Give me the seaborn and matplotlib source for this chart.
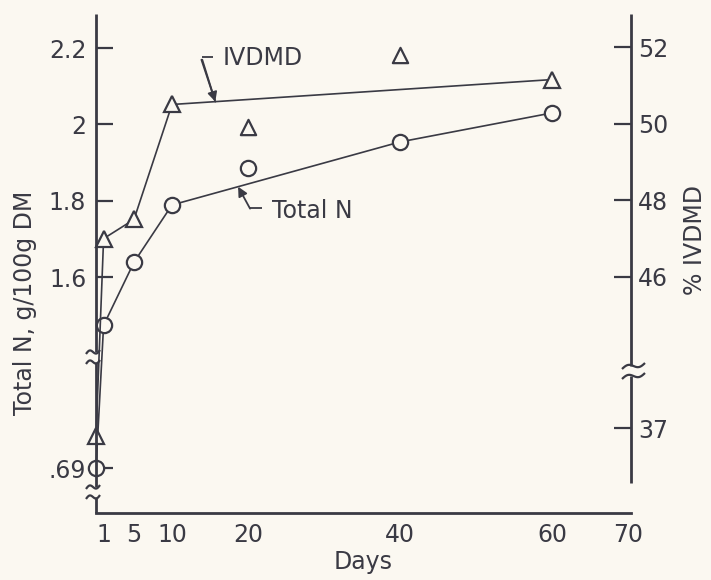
import numpy as np
import pandas as pd
import matplotlib
matplotlib.use("Agg")
import matplotlib.pyplot as plt
import seaborn as sns
from matplotlib.lines import Line2D

# ---------------- data ----------------
days_n = [0, 1, 5, 10, 40, 60]
total_n = [0.69, 1.474, 1.639, 1.789, 1.954, 2.030]
days_n_extra = [20]
total_n_extra = [1.886]

days_iv = [0, 1, 5, 10, 60]
ivdmd = [36.8, 47.0, 47.5, 50.5, 51.15]
days_iv_extra = [20, 40]
ivdmd_extra = [49.9, 51.8]

x_ticks = [1, 5, 10, 20, 40, 60, 70]
x_labels = ["1", "5", "10", "20", "40", "60", "70"]
left_ticks = [0.69, 1.6, 1.8, 2.0, 2.2]
left_labels = [".69", "1.6", "1.8", "2", "2.2"]
right_ticks = [37, 46, 48, 50, 52]
right_labels = ["37", "46", "48", "50", "52"]

# ---------------- style ----------------
BG = "#fbf8f1"
INK = "#3a3a44"
sns.set_theme(style="white")
plt.rcParams["font.family"] = ["DejaVu Sans"]
plt.rcParams["text.color"] = INK
plt.rcParams["xtick.color"] = INK
plt.rcParams["ytick.color"] = INK
FS = 17

W, H = 711, 580
fig = plt.figure(figsize=(W / 100, H / 100), dpi=100, facecolor=BG)
AX_L, AX_R, AX_T, AX_B = 96, 631, 14, 513
ax = fig.add_axes([AX_L / W, (H - AX_B) / H, (AX_R - AX_L) / W, (AX_B - AX_T) / H])
ax.set_facecolor(BG)
ax2 = ax.twinx()
ax2.set_facecolor("none")


# piecewise-linear broken scale (position in px above the x axis)
def make_pw(xs, ys):
    xs = np.asarray(xs, float)
    ys = np.asarray(ys, float)

    def f(v):
        v = np.asarray(v, float)
        out = np.interp(v, xs, ys)
        s0 = (ys[1] - ys[0]) / (xs[1] - xs[0])
        s1 = (ys[-1] - ys[-2]) / (xs[-1] - xs[-2])
        out = np.where(v < xs[0], ys[0] + (v - xs[0]) * s0, out)
        out = np.where(v > xs[-1], ys[-1] + (v - xs[-1]) * s1, out)
        return out

    return f, make_inv(xs, ys)


def make_inv(xs, ys):
    def g(p):
        p = np.asarray(p, float)
        out = np.interp(p, ys, xs)
        s0 = (xs[1] - xs[0]) / (ys[1] - ys[0])
        s1 = (xs[-1] - xs[-2]) / (ys[-1] - ys[-2])
        out = np.where(p < ys[0], xs[0] + (p - ys[0]) * s0, out)
        out = np.where(p > ys[-1], xs[-1] + (p - ys[-1]) * s1, out)
        return out

    return g


lf, li = make_pw([0.69, 0.968, 1.404, 2.2], [45, 151, 161, 465])
rf, ri = make_pw([37, 38.435, 43.65, 52], [85, 140, 146, 466])
ax.set_yscale("function", functions=(lf, li))
ax2.set_yscale("function", functions=(rf, ri))
HPX = AX_B - AX_T
ax.set_ylim(float(li(0)), float(li(HPX)))
ax2.set_ylim(float(ri(0)), float(ri(HPX)))
ax.set_xlim(0, 70.4)

# ---------------- data marks ----------------
LW = 1.2
MS = 11
df_n = pd.DataFrame({"day": days_n, "val": total_n})
df_iv = pd.DataFrame({"day": days_iv, "val": ivdmd})
sns.lineplot(data=df_n, x="day", y="val", ax=ax, color=INK, lw=LW, sort=False,
             estimator=None, marker="o", markersize=MS, markerfacecolor=BG,
             markeredgecolor=INK, markeredgewidth=1.6, clip_on=False, zorder=3)
sns.scatterplot(x=days_n_extra, y=total_n_extra, ax=ax, marker="o", s=MS ** 2,
                facecolor=BG, edgecolor=INK, linewidth=1.6, zorder=4, clip_on=False)
sns.lineplot(data=df_iv, x="day", y="val", ax=ax2, color=INK, lw=LW, sort=False,
             estimator=None, marker="^", markersize=MS, markerfacecolor=BG,
             markeredgecolor=INK, markeredgewidth=1.6, clip_on=False, zorder=3)
sns.scatterplot(x=days_iv_extra, y=ivdmd_extra, ax=ax2, marker="^", s=MS ** 2,
                facecolor=BG, edgecolor=INK, linewidth=1.6, zorder=4, clip_on=False)

# ---------------- axes / ticks ----------------
for a in (ax, ax2):
    for s in a.spines.values():
        s.set_visible(False)
    a.set_xlabel("")
    a.set_ylabel("")
ax.spines["bottom"].set_visible(True)
ax.spines["bottom"].set_linewidth(2.0)
ax.spines["bottom"].set_color(INK)

ax.set_xticks(x_ticks)
ax.set_xticklabels(x_labels)
ax.set_yticks(left_ticks)
ax.set_yticklabels(left_labels)
ax2.set_yticks(right_ticks)
ax2.set_yticklabels(right_labels)
ax.yaxis.set_minor_locator(matplotlib.ticker.NullLocator())
ax2.yaxis.set_minor_locator(matplotlib.ticker.NullLocator())
ax.tick_params(axis="x", direction="in", length=10, width=1.8, pad=7, labelsize=FS, colors=INK)
ax.tick_params(axis="y", direction="in", length=12, width=1.6, pad=7, labelsize=FS, colors=INK)
ax2.tick_params(axis="y", direction="in", length=12, width=1.6, pad=5, labelsize=FS, colors=INK)


# ---------------- hand-drawn broken spines ----------------
def fig_line(xs, ys, lw=2.0):
    fig.add_artist(Line2D(np.asarray(xs) / W, 1 - np.asarray(ys) / H,
                          transform=fig.transFigure, color=INK, lw=lw,
                          solid_capstyle="butt", zorder=5))


def brk(x0, x1, yc, tilt=4, amp=2.5):
    t = np.linspace(0, 1, 20)
    xs = x0 + (x1 - x0) * t
    ys = yc + tilt * (0.5 - t) - amp * np.sin(2 * np.pi * t)
    fig_line(xs, ys, lw=1.6)


# left spine: three segments
fig_line([AX_L, AX_L], [AX_T, 352])
fig_line([AX_L, AX_L], [362, 487])
fig_line([AX_L, AX_L], [497, AX_B])
brk(86, 100, 352)
brk(86, 100, 362)
brk(86, 100, 487)
brk(86, 100, 497)
# right spine: two segments, ends above the x axis
fig_line([AX_R, AX_R], [AX_T, 366])
fig_line([AX_R, AX_R], [376, 483])
brk(622, 645, 366, tilt=6)
brk(622, 645, 376, tilt=6)

# ---------------- labels ----------------
fig.text(25 / W, 1 - 303 / H, "Total N, g/100g DM", rotation=90, ha="center",
         va="center", fontsize=FS, color=INK)
fig.text(695 / W, 1 - 240 / H, "% IVDMD", rotation=90, ha="center",
         va="center", fontsize=FS, color=INK)
fig.text(363 / W, 1 - 562 / H, "Days", ha="center", va="center", fontsize=FS, color=INK)

# ---------------- annotations ----------------
iv_tip_day = 15.7
iv_tip = (iv_tip_day, float(np.interp(iv_tip_day, days_iv, ivdmd)))
ax2.annotate("", xy=iv_tip, xycoords="data", xytext=(-9.4, 30.2), textcoords="offset points",
             arrowprops=dict(arrowstyle="-|>", color=INK, lw=1.3, mutation_scale=14,
                             shrinkA=0, shrinkB=0))
ax2.annotate("", xy=iv_tip, xycoords="data", xytext=(-10, 30.2), textcoords="offset points",
             arrowprops=dict(arrowstyle="-", color=INK, lw=1.3, shrinkA=0, shrinkB=0,
                             relpos=(0, 0)), annotation_clip=False)
ax2.annotate("IVDMD", xy=iv_tip, xycoords="data", xytext=(5, 31.5), textcoords="offset points",
             ha="left", va="center", fontsize=FS, color=INK)
fig_line([202, 213], [57, 57], lw=1.3)

tn_tip_day = 18.7
tn_tip = (tn_tip_day, float(np.interp(tn_tip_day, days_n, total_n)))
ax.annotate("", xy=tn_tip, xycoords="data", xytext=(8.6, -15.8), textcoords="offset points",
            arrowprops=dict(arrowstyle="-|>", color=INK, lw=1.3, mutation_scale=14,
                            shrinkA=0, shrinkB=0))
ax.annotate("Total N", xy=tn_tip, xycoords="data", xytext=(24.5, -17.3), textcoords="offset points",
            ha="left", va="center", fontsize=FS, color=INK)
fig_line([250, 262], [208, 208], lw=1.3)

fig.savefig("out.png", dpi=100, facecolor=BG)
